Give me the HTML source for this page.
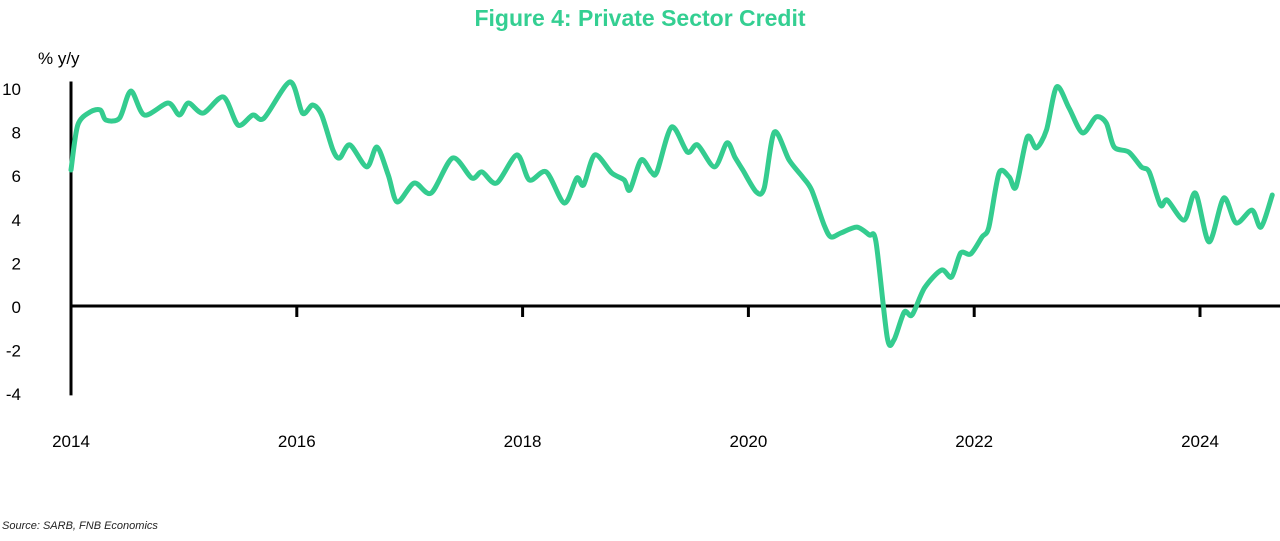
<!DOCTYPE html>
<html><head><meta charset="utf-8"><style>
body{margin:0;background:#fff;width:1280px;height:536px;overflow:hidden;font-family:"Liberation Sans",sans-serif}
</style></head><body>
<svg id="chart" width="1280" height="536" xmlns="http://www.w3.org/2000/svg">
<text x="640" y="26" text-anchor="middle" font-family="Liberation Sans Narrow, Liberation Sans, sans-serif" font-weight="bold" font-size="23" fill="#34cf92">Figure 4: Private Sector Credit</text>
<text x="38" y="64" font-size="17" fill="#000">% y/y</text>
<text x="2" y="529" font-size="11" font-style="italic" fill="#222">Source: SARB, FNB Economics</text>
<g id="axes"></g>
<g id="series"></g>
</svg>
<script>
const dates=[2014.00,2014.06,2014.17,2014.26,2014.31,2014.43,2014.53,2014.65,2014.86,2014.96,2015.04,2015.17,2015.35,2015.48,2015.61,2015.71,2015.94,2016.05,2016.14,2016.22,2016.32,2016.38,2016.47,2016.62,2016.71,2016.81,2016.89,2017.04,2017.19,2017.38,2017.55,2017.64,2017.77,2017.95,2018.06,2018.21,2018.37,2018.48,2018.54,2018.64,2018.79,2018.90,2018.95,2019.05,2019.14,2019.19,2019.32,2019.46,2019.55,2019.70,2019.81,2019.88,2019.95,2020.07,2020.14,2020.23,2020.36,2020.48,2020.56,2020.67,2020.73,2020.82,2020.96,2021.07,2021.13,2021.23,2021.29,2021.38,2021.45,2021.56,2021.71,2021.80,2021.88,2021.97,2022.07,2022.13,2022.22,2022.31,2022.37,2022.47,2022.55,2022.64,2022.73,2022.84,2022.96,2023.08,2023.17,2023.24,2023.37,2023.48,2023.55,2023.65,2023.71,2023.86,2023.96,2024.08,2024.21,2024.32,2024.46,2024.54,2024.64];
const values=[6.24,8.30,8.90,8.99,8.53,8.62,9.86,8.76,9.31,8.76,9.31,8.85,9.59,8.30,8.76,8.62,10.28,8.85,9.22,8.76,7.16,6.79,7.39,6.38,7.29,6.01,4.77,5.64,5.18,6.79,5.87,6.15,5.64,6.93,5.78,6.15,4.72,5.87,5.55,6.93,6.10,5.78,5.32,6.70,6.15,6.15,8.21,7.06,7.39,6.38,7.48,6.83,6.24,5.23,5.41,7.98,6.70,5.92,5.32,3.72,3.17,3.35,3.62,3.26,2.94,-1.45,-1.55,-0.28,-0.41,0.83,1.65,1.33,2.43,2.39,3.17,3.62,6.10,5.92,5.46,7.75,7.25,8.07,10.05,9.08,7.94,8.67,8.39,7.29,7.06,6.38,6.15,4.63,4.86,3.94,5.18,2.94,4.95,3.81,4.40,3.62,5.09];
const yTicks=[10,8,6,4,2,0,-2,-4];
const xTicks=[2014,2016,2018,2020,2022,2024];
const NS="http://www.w3.org/2000/svg";
const X=d=>71+(d-2014)*112.9;
const Y=v=>306-v*21.8;
const axes=document.getElementById('axes'), series=document.getElementById('series');
function mk(tag,attrs,parent){const e=document.createElementNS(NS,tag);for(const k in attrs)e.setAttribute(k,attrs[k]);parent.appendChild(e);return e;}
let e=mk('line',{x1:71,x2:71,y1:Y(10.3),y2:Y(-4.1),stroke:'#000','stroke-width':3},axes);


e=mk('line',{x1:71,x2:1280,y1:Y(0),y2:Y(0),stroke:'#000','stroke-width':3},axes);


yTicks.forEach(t=>{const l=mk('text',{x:21,y:Y(t)+7,'text-anchor':'end','font-size':17,fill:'#000'},axes);l.textContent=t;

});
xTicks.forEach(t=>{const tk=mk('line',{x1:X(t),x2:X(t),y1:Y(0),y2:Y(0)+11,stroke:'#000','stroke-width':3},axes);


const l=mk('text',{x:X(t),y:447,'text-anchor':'middle','font-size':17,fill:'#000'},axes);l.textContent=t;

});
const pts=dates.map((d,i)=>[X(d),Y(values[i])]);
let dstr='M'+pts[0][0]+','+pts[0][1];
const k=1/7;
for(let i=0;i<pts.length-1;i++){const p0=pts[i-1]||pts[i],p1=pts[i],p2=pts[i+1],p3=pts[i+2]||p2;
const c1=[p1[0]+(p2[0]-p0[0])*k,p1[1]+(p2[1]-p0[1])*k],c2=[p2[0]-(p3[0]-p1[0])*k,p2[1]-(p3[1]-p1[1])*k];
dstr+=`C${c1[0]},${c1[1]} ${c2[0]},${c2[1]} ${p2[0]},${p2[1]}`;}
const path=mk('path',{d:dstr,fill:'none',stroke:'#34cc8f','stroke-width':5,'stroke-linejoin':'round','stroke-linecap':'round'},series);


</script>
</body></html>
